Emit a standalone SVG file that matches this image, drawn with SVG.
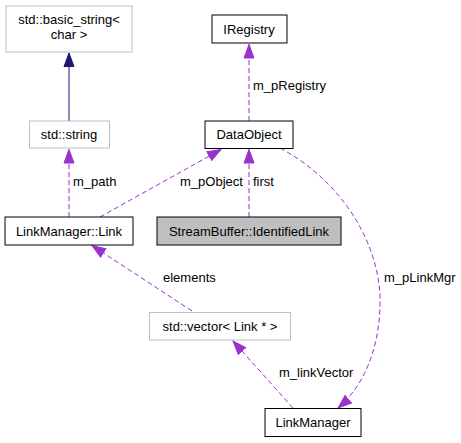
<svg xmlns="http://www.w3.org/2000/svg" width="461" height="443" viewBox="0 0 461 443">
<style>
text{font-family:"Liberation Sans",Arial,sans-serif;font-size:13px;fill:#000}
.n{text-anchor:middle}
.box{fill:#fff;stroke:#000;stroke-width:1}
.gbox{fill:#fff;stroke:#bfbfbf;stroke-width:1}
.sel{fill:#bfbfbf;stroke:#000;stroke-width:1}
.dep{fill:none;stroke:#9a32cd;stroke-width:1;stroke-dasharray:5,3;marker-end:url(#pa)}
.inh{fill:none;stroke:#191970;stroke-width:1;marker-end:url(#ba)}
</style>
<defs>
<marker id="pa" markerUnits="userSpaceOnUse" markerWidth="16" markerHeight="12" viewBox="0 -6 16 12" refX="14" refY="0" orient="auto">
<path d="M0.5,-5 L14,0 L0.5,5 Z" fill="#9a32cd" stroke="#9a32cd"/>
</marker>
<marker id="ba" markerUnits="userSpaceOnUse" markerWidth="16" markerHeight="12" viewBox="0 -6 16 12" refX="14" refY="0" orient="auto">
<path d="M0.5,-5 L14,0 L0.5,5 Z" fill="#191970" stroke="#191970"/>
</marker>
</defs>
<g id="connectors">
<path class="inh" d="M69,121 L69,53"/>
<path class="dep" d="M69,217 L69,149.5"/>
<path class="dep" d="M249,121 L249,44.5"/>
<path class="dep" d="M249,217 L249,149.5"/>
<path class="dep" d="M100,217 L221,149.5"/>
<path class="dep" d="M192,311 L92,245.5"/>
<path class="dep" d="M293,408 L233,341"/>
<path class="dep" d="M280,148 C340,180 378,240 380,297 C381,345 365,385 338,408"/>
<text x="73" y="186">m_path</text>
<text x="253" y="90">m_pRegistry</text>
<text x="180" y="186">m_pObject</text>
<text x="253" y="186">first</text>
<text x="163" y="282">elements</text>
<text x="384" y="282">m_pLinkMgr</text>
<text x="279" y="377">m_linkVector</text>
</g>
<g id="basic_string">
<rect class="gbox" x="6" y="6" width="126" height="46"/>
<text class="n" x="69" y="24">std::basic_string&lt;</text>
<text class="n" x="69" y="39">char &gt;</text>
</g>
<g id="string">
<rect class="gbox" x="29.5" y="121" width="80" height="27"/>
<text class="n" x="69" y="139">std::string</text>
</g>
<g id="IRegistry">
<rect class="box" x="212" y="15" width="75" height="28"/>
<text class="n" x="249" y="34">IRegistry</text>
</g>
<g id="DataObject">
<rect class="box" x="205" y="121" width="88" height="27.5"/>
<text class="n" x="249" y="139">DataObject</text>
</g>
<g id="Link">
<rect class="box" x="5" y="217" width="128" height="28"/>
<text class="n" x="69" y="235.5">LinkManager::Link</text>
</g>
<g id="IdentifiedLink">
<rect class="sel" x="157" y="217" width="184" height="28"/>
<text class="n" x="249" y="235.5">StreamBuffer::IdentifiedLink</text>
</g>
<g id="vector">
<rect class="gbox" x="149.5" y="312.5" width="141" height="27.5"/>
<text class="n" x="220" y="331">std::vector&lt; Link * &gt;</text>
</g>
<g id="LinkManager">
<rect class="box" x="265" y="408.5" width="96" height="28"/>
<text class="n" x="313" y="427">LinkManager</text>
</g>
</svg>
